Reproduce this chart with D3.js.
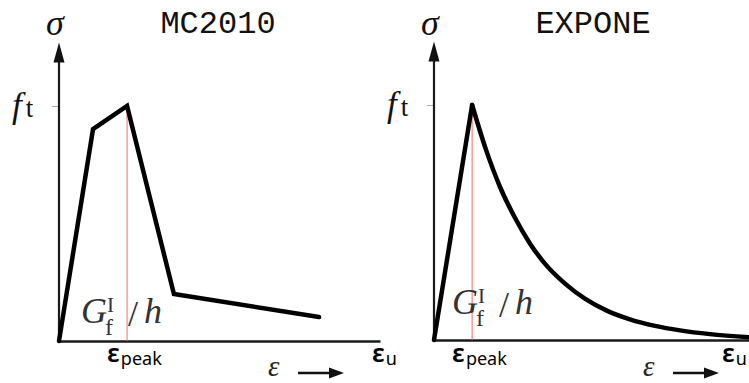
<!DOCTYPE html>
<html>
<head>
<meta charset="utf-8">
<script src="https://cdn.jsdelivr.net/npm/d3@7"></script>
<style>
  body { margin: 0; background: #fff; }
  svg { display: block; }
</style>
</head>
<body>
<div id="chart"></div>
<script>
// panel titles
var panelTitles = ["MC2010", "EXPONE"];

// MC2010 multilinear softening (strain / eps_u, stress / f_t)
var mcStrain = [0, 0.106, 0.212, 0.358, 0.81];
var mcStress = [0, 0.902, 1.0, 0.2, 0.102];

// EXPONE: linear rise then exponential softening
var expStrain = [0, 0.121, 0.165, 0.21, 0.257, 0.305, 0.352, 0.416, 0.479, 0.552, 0.622, 0.702, 0.781, 0.876, 1.0];
var expStress = [0, 1.0, 0.81, 0.65, 0.52, 0.41, 0.325, 0.24, 0.176, 0.123, 0.088, 0.06, 0.041, 0.025, 0.012];

var peakStrain = [0.212, 0.121];
var yTickValues = [1];

var width = 749,
  height = 383;

// layout of each panel
var panels = [
  { left: 59, right: 380, base: 341, top: 106, strain: mcStrain, stress: mcStress, peak: peakStrain[0], gdx: 22, gbase: 323, udx: -8 },
  { left: 434, right: 749, base: 340, top: 105, strain: expStrain, stress: expStress, peak: peakStrain[1], gdx: 18, gbase: 314, udx: -27 }
];

var svg = d3.select("#chart")
  .append("svg")
  .attr("width", width)
  .attr("height", height);

var serif = "'Liberation Serif', 'DejaVu Serif', serif";
var sans = "'Noto Sans', 'Open Sans', sans-serif";

panels.forEach(function (p, i) {
  var x = d3.scaleLinear().domain([0, 1]).range([p.left, p.right]);
  var y = d3.scaleLinear().domain([0, 1]).range([p.base, p.top]);
  var x0 = x(0);

  var g = svg.append("g");

  // f_t tick
  g.append("g")
    .attr("transform", "translate(" + x0 + ",0)")
    .call(d3.axisLeft(y).tickValues(yTickValues).tickSize(7).tickFormat(""))
    .call(function (a) { a.select(".domain").remove(); })
    .selectAll("line")
    .attr("stroke", "#aaa")
    .attr("stroke-width", 1);

  // vertical axis with arrow head
  var tipY = y(1.27);
  g.append("line")
    .attr("x1", x0).attr("x2", x0)
    .attr("y1", y(0)).attr("y2", tipY + 18)
    .attr("stroke", "#1a1a1a")
    .attr("stroke-width", 2.2);
  g.append("path")
    .attr("d", "M" + x0 + "," + tipY + "L" + (x0 + 5.5) + "," + (tipY + 20) + "L" + (x0 - 5.5) + "," + (tipY + 20) + "Z")
    .attr("fill", "#111");

  // horizontal axis
  g.append("g")
    .attr("transform", "translate(0," + y(0) + ")")
    .call(d3.axisBottom(x).tickValues([]).tickSizeOuter(0))
    .select(".domain")
    .attr("stroke", "#1a1a1a")
    .attr("stroke-width", 2.4);

  // peak marker
  g.append("line")
    .attr("x1", x(p.peak)).attr("x2", x(p.peak))
    .attr("y1", y(1)).attr("y2", y(0))
    .attr("stroke", "#f36b6b")
    .attr("stroke-width", 1);

  var pts = p.strain.map(function (d, k) { return [d, p.stress[k]]; });
  var line = d3.line().x(function (d) { return x(d[0]); }).y(function (d) { return y(d[1]); });

  if (i === 0) {
    g.append("path")
      .attr("d", line(pts))
      .attr("fill", "none")
      .attr("stroke", "#000")
      .attr("stroke-width", 4.5)
      .attr("stroke-linecap", "round");
  } else {
    g.append("path")
      .attr("d", line(pts.slice(0, 2)))
      .attr("fill", "none")
      .attr("stroke", "#000")
      .attr("stroke-width", 4.5)
      .attr("stroke-linecap", "round");
    g.append("path")
      .attr("d", line.curve(d3.curveMonotoneX)(pts.slice(1)))
      .attr("fill", "none")
      .attr("stroke", "#000")
      .attr("stroke-width", 4.5)
      .attr("stroke-linecap", "round");
  }

  // title
  g.append("text")
    .attr("x", x0 + 159)
    .attr("y", 33)
    .attr("text-anchor", "middle")
    .style("font-family", "'Liberation Mono', 'DejaVu Sans Mono', monospace")
    .style("font-size", "32px")
    .style("fill", "#111")
    .text(panelTitles[i]);

  // sigma
  g.append("text")
    .attr("x", x0 - 13)
    .attr("y", 35)
    .style("font-family", serif)
    .style("font-style", "italic")
    .style("font-size", "36px")
    .style("fill", "#111")
    .text("σ");

  // f_t
  var ft = g.append("text")
    .attr("x", x0 - 47)
    .attr("y", y(1) + 11)
    .style("font-family", serif)
    .style("fill", "#111");
  ft.append("tspan").style("font-style", "italic").style("font-size", "35px").text("f");
  ft.append("tspan").attr("dx", 4).style("font-size", "27px").text("t");

  // G_f^I / h  (one text, pieces placed with tspans)
  var gx = x0 + p.gdx;
  var gl = g.append("text")
    .attr("x", gx)
    .attr("y", p.gbase)
    .style("font-family", serif)
    .style("fill", "#333");
  gl.append("tspan").style("font-style", "italic").style("font-size", "36px").text("G");
  gl.append("tspan").attr("x", gx + 26).attr("y", p.gbase - 11).style("font-size", "21px").text("I");
  gl.append("tspan").attr("x", gx + 24).attr("y", p.gbase + 12).style("font-size", "24px").text("f");
  gl.append("tspan").attr("x", gx + 47).attr("y", p.gbase + 3).style("font-size", "36px").text("/");
  gl.append("tspan").attr("x", gx + 63).attr("y", p.gbase).style("font-style", "italic").style("font-size", "36px").text("h");

  // eps_peak
  var ep = g.append("text")
    .attr("x", x(p.peak) - 20)
    .attr("y", 362)
    .style("font-family", sans)
    .style("fill", "#000");
  ep.append("tspan").style("font-size", "26px").style("font-weight", "600").text("ε");
  ep.append("tspan").attr("dx", 1).attr("dy", 3).style("font-size", "18px").text("peak");

  // eps_u
  var eu = g.append("text")
    .attr("x", x(1) + p.udx)
    .attr("y", 362)
    .style("font-family", sans)
    .style("fill", "#000");
  eu.append("tspan").style("font-size", "26px").style("font-weight", "600").text("ε");
  eu.append("tspan").attr("dx", 1).attr("dy", 3).style("font-size", "18px").text("u");

  // epsilon arrow
  g.append("text")
    .attr("x", x0 + 209)
    .attr("y", 376)
    .style("font-family", serif)
    .style("font-style", "italic")
    .style("font-size", "29px")
    .style("fill", "#222")
    .text("ε");
  g.append("line")
    .attr("x1", x0 + 239).attr("x2", x0 + 272)
    .attr("y1", 373).attr("y2", 373)
    .attr("stroke", "#111")
    .attr("stroke-width", 2.5);
  g.append("path")
    .attr("d", "M" + (x0 + 285) + ",373L" + (x0 + 270) + ",367.5L" + (x0 + 270) + ",378.5Z")
    .attr("fill", "#111");
});
</script>
</body>
</html>
